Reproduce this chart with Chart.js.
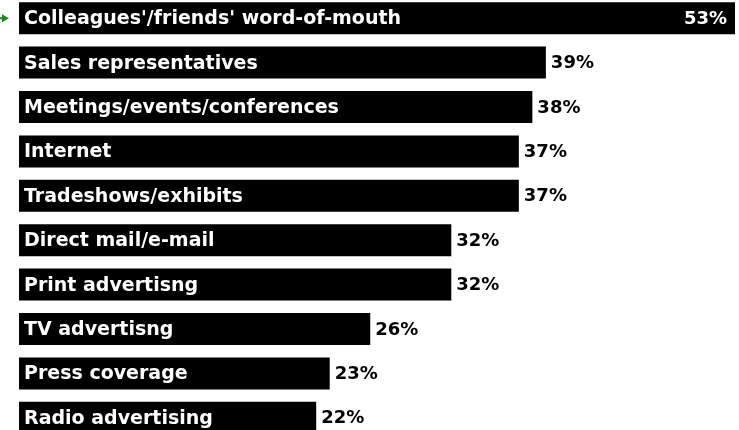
<!DOCTYPE html>
<html>
<head>
<meta charset="utf-8">
<script src="https://cdn.jsdelivr.net/npm/chart.js@4.4.1/dist/chart.umd.min.js"></script>
<style>
  html, body { margin: 0; padding: 0; background: #fff; overflow: hidden; }
  #wrap { position: absolute; left: 0; top: -4px; width: 739px; height: 444px; }
</style>
</head>
<body>
<div id="wrap"><canvas id="chart"></canvas></div>
<script>
const categories = [
  "Colleagues'/friends' word-of-mouth",
  "Sales representatives",
  "Meetings/events/conferences",
  "Internet",
  "Tradeshows/exhibits",
  "Direct mail/e-mail",
  "Print advertisng",
  "TV advertisng",
  "Press coverage",
  "Radio advertising",
];
const shares = [53, 39, 38, 37, 37, 32, 32, 26, 23, 22];

// labels inside bars + percent at bar end, plus the little green pointer
const barLabels = {
  id: "barLabels",
  afterDatasetsDraw(chart) {
    const ctx = chart.ctx;
    const meta = chart.getDatasetMeta(0);
    ctx.save();
    ctx.textBaseline = "middle";
    meta.data.forEach((bar, i) => {
      const left = bar.base;
      ctx.font = "bold 19px 'DejaVu Sans', Verdana, sans-serif";
      ctx.fillStyle = "#fff";
      ctx.textAlign = "left";
      ctx.fillText(categories[i], left + 5, bar.y + 1);

      ctx.font = "bold 18px 'DejaVu Sans', Verdana, sans-serif";
      const txt = shares[i] + "%";
      const w = ctx.measureText(txt).width;
      if (bar.x + 4 + w > chart.chartArea.right) {
        ctx.fillStyle = "#fff";
        ctx.textAlign = "right";
        ctx.fillText(txt, bar.x - 8, bar.y + 1);
      } else {
        ctx.fillStyle = "#000";
        ctx.textAlign = "left";
        ctx.fillText(txt, bar.x + 5, bar.y + 1);
      }
    });
    // pointer arrow at the top bar
    const first = meta.data[0];
    ctx.fillStyle = "#168c16";
    ctx.beginPath();
    ctx.moveTo(2, first.y - 4);
    ctx.lineTo(9, first.y);
    ctx.lineTo(2, first.y + 4);
    ctx.closePath();
    ctx.fill();
    ctx.fillRect(0, first.y - 1, 4, 2);
    ctx.restore();
  },
};

new Chart(document.getElementById("chart"), {
  type: "bar",
  data: {
    labels: categories,
    datasets: [{
      data: shares,
      backgroundColor: "#000",
      borderWidth: 0,
      barPercentage: 0.8,
      categoryPercentage: 0.9,
    }],
  },
  options: {
    indexAxis: "y",
    responsive: true,
    maintainAspectRatio: false,
    animation: false,
    layout: { padding: { left: 19, right: 4, top: 0, bottom: 0 } },
    scales: {
      x: { display: false, min: 0, max: 53 },
      y: { display: false },
    },
    plugins: { legend: { display: false }, tooltip: { enabled: false } },
  },
  plugins: [barLabels],
});
</script>
</body>
</html>
